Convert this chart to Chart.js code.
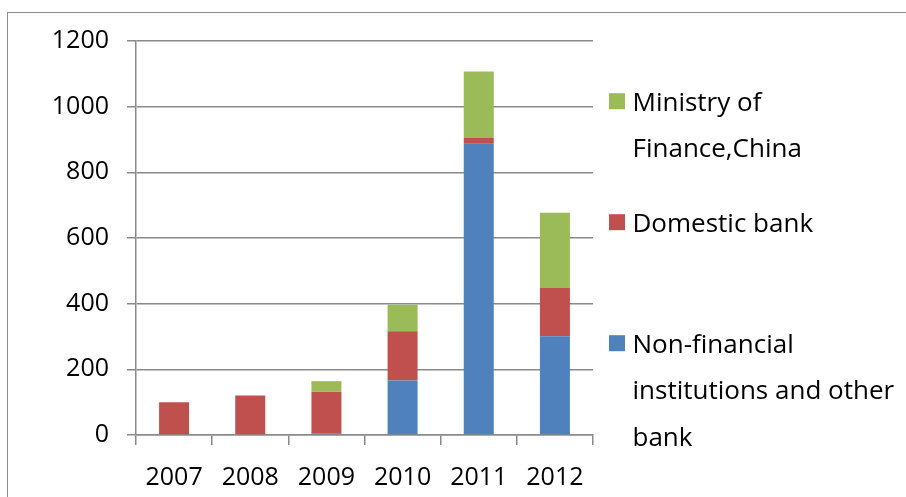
<!DOCTYPE html>
<html>
<head>
<meta charset="utf-8">
<script src="https://cdn.jsdelivr.net/npm/chart.js@4/dist/chart.umd.min.js"></script>
<style>
  html, body { margin: 0; padding: 0; background: #fff; }
  #wrap { width: 906px; height: 497px; position: relative; }
</style>
</head>
<body>
<div id="wrap"><canvas id="c" width="906" height="497"></canvas></div>
<script>
// Funding sources by year (stacked)
const years = ['2007', '2008', '2009', '2010', '2011', '2012'];
const nonFinancial = [0, 0, 4, 166, 887, 301];
const domesticBank = [100, 120, 128, 150, 19, 147];
const ministryOfFinance = [0, 0, 32, 81, 201, 229];

// Legend labels, one array of lines per series
const legendNonFinancial = ['Non-financial', 'institutions and other', 'bank'];
const legendDomestic = ['Domestic bank'];
const legendMinistry = ['Ministry of', 'Finance,China'];

const FONT = '"Open Sans", "Noto Sans", sans-serif';
const GRID = '#8a8a8a';

// Outer frame around the chart object
const framePlugin = {
  id: 'frame',
  beforeDraw(chart) {
    const ctx = chart.ctx;
    ctx.save();
    ctx.fillStyle = '#fff';
    ctx.fillRect(0, 0, chart.width, chart.height);
    ctx.strokeStyle = '#8c8c8c';
    ctx.lineWidth = 1;
    ctx.strokeRect(7.5, 12.5, 1200, 1200);
    ctx.restore();
  }
};

// Right-hand legend, top series first, with wrapped labels
const sideLegend = {
  id: 'sideLegend',
  afterDraw(chart) {
    const ctx = chart.ctx;
    const items = chart.data.datasets.slice().reverse();
    ctx.save();
    ctx.font = '26px ' + FONT;
    ctx.textBaseline = 'alphabetic';
    ctx.textAlign = 'left';
    items.forEach((ds, i) => {
      const base = 110.7 + 121 * i;
      ctx.fillStyle = ds.backgroundColor;
      ctx.fillRect(609, base - 17.5, 16, 16);
      ctx.fillStyle = '#000';
      ds.legendLines.forEach((line, j) => {
        ctx.fillText(line, 632.5, base + 46.5 * j);
      });
    });
    ctx.restore();
  }
};

new Chart(document.getElementById('c'), {
  type: 'bar',
  data: {
    labels: years,
    datasets: [
      { label: legendNonFinancial.join(' '), legendLines: legendNonFinancial, data: nonFinancial, backgroundColor: '#4F81BD' },
      { label: legendDomestic.join(' '), legendLines: legendDomestic, data: domesticBank, backgroundColor: '#C0504D' },
      { label: legendMinistry.join(' '), legendLines: legendMinistry, data: ministryOfFinance, backgroundColor: '#9BBB59' }
    ]
  },
  options: {
    responsive: false,
    animation: false,
    devicePixelRatio: 1,
    layout: { padding: { top: 41, right: 313, bottom: 0, left: 0 } },
    datasets: {
      bar: { categoryPercentage: 1, barPercentage: 0.394, borderWidth: 0 }
    },
    plugins: {
      legend: { display: false },
      tooltip: { enabled: false }
    },
    scales: {
      x: {
        stacked: true,
        afterFit(scale) { scale.height = 62; },
        grid: { drawOnChartArea: false, drawTicks: true, tickLength: 10, color: GRID, lineWidth: 1.5, offset: true },
        border: { display: true, color: GRID, width: 1.5 },
        ticks: { color: '#000', font: { family: FONT, size: 25 }, padding: 18, maxRotation: 0 }
      },
      y: {
        stacked: true,
        min: 0,
        max: 1200,
        afterFit(scale) { scale.width = 136; },
        grid: { color: GRID, lineWidth: 1.5, tickLength: 9 },
        border: { display: true, color: GRID, width: 1.5 },
        ticks: {
          stepSize: 200,
          color: '#000',
          font: { family: FONT, size: 25 },
          padding: 18,
          callback: (v) => String(v)
        }
      }
    }
  },
  plugins: [framePlugin, sideLegend]
});
</script>
</body>
</html>
